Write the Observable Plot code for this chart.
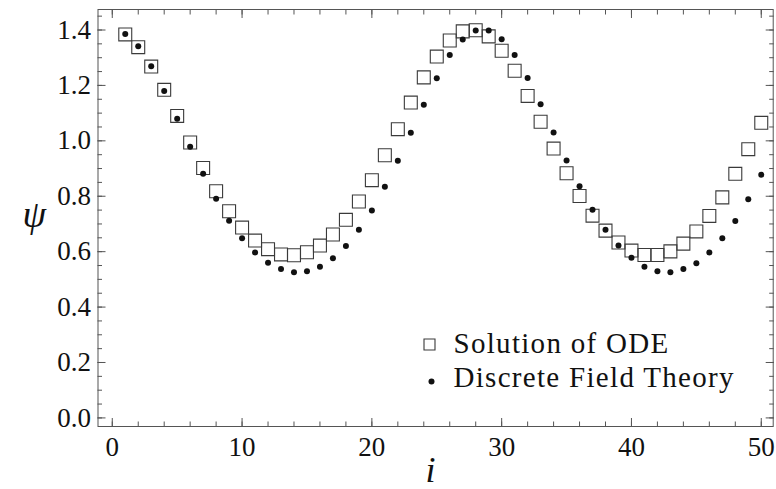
<!DOCTYPE html>
<html>
<head>
<meta charset="utf-8">
<script src="https://cdn.jsdelivr.net/npm/d3@7"></script>
<script src="https://cdn.jsdelivr.net/npm/@observablehq/plot@0.6"></script>
<style>
  html, body { margin: 0; padding: 0; background: #fff; }
  #chart svg { display: block; }
</style>
</head>
<body>
<div id="chart"></div>
<script>
// index i = 1..50
const idx = d3.range(1, 51);

// Solution of ODE (open squares)
const odeValues = [
  1.384, 1.338, 1.268, 1.184, 1.090, 0.994, 0.902, 0.818, 0.746, 0.687,
  0.640, 0.609, 0.590, 0.587, 0.598, 0.622, 0.662, 0.715, 0.781, 0.858,
  0.948, 1.042, 1.138, 1.229, 1.304, 1.362, 1.395, 1.399, 1.377, 1.325,
  1.253, 1.162, 1.069, 0.972, 0.883, 0.801, 0.730, 0.676, 0.633, 0.604,
  0.588, 0.588, 0.601, 0.629, 0.673, 0.729, 0.796, 0.881, 0.970, 1.065
];

// Discrete Field Theory (filled dots)
const dftValues = [
  1.386, 1.341, 1.269, 1.180, 1.080, 0.979, 0.881, 0.791, 0.712, 0.648,
  0.597, 0.560, 0.537, 0.526, 0.529, 0.546, 0.576, 0.620, 0.679, 0.749,
  0.834, 0.928, 1.029, 1.130, 1.226, 1.310, 1.366, 1.398, 1.398, 1.367,
  1.310, 1.227, 1.132, 1.030, 0.929, 0.836, 0.751, 0.679, 0.622, 0.578,
  0.546, 0.529, 0.526, 0.537, 0.558, 0.597, 0.648, 0.711, 0.789, 0.878
];

const seriesNames = ["Solution of ODE", "Discrete Field Theory"];
const xMajor = [0, 10, 20, 30, 40, 50];
const xMinor = d3.range(0, 51, 2);
const yMajor = [0, 0.2, 0.4, 0.6, 0.8, 1.0, 1.2, 1.4];
const yMinor = d3.range(0, 30).map(k => +(k * 0.05).toFixed(2));
const xLabel = "i";
const yLabel = "ψ";

const ode = idx.map((i, k) => ({i, v: odeValues[k]}));
const dft = idx.map((i, k) => ({i, v: dftValues[k]}));

const frameColor = "#555";
const font = "Liberation Serif";

const svg = Plot.plot({
  width: 776,
  height: 489,
  marginLeft: 97.5,
  marginRight: 3.3,
  marginTop: 9,
  marginBottom: 63,
  style: "font-family: 'Liberation Serif', 'DejaVu Serif', serif; font-size: 27px; color: #111; background: #fff;",
  x: {domain: [-1.1, 50.92]},
  y: {domain: [-0.031, 1.474]},
  marks: [
    Plot.frame({stroke: frameColor, strokeWidth: 1}),
    // inward ticks, all four sides
    Plot.axisX(xMinor, {anchor: "bottom", tickSize: -4.5, tickFormat: () => "", label: null, stroke: frameColor}),
    Plot.axisX(xMinor, {anchor: "top", tickSize: -4.5, tickFormat: () => "", label: null, stroke: frameColor}),
    Plot.axisX(xMajor, {anchor: "bottom", tickSize: -8, tickFormat: () => "", label: null, stroke: frameColor}),
    Plot.axisX(xMajor, {anchor: "top", tickSize: -8, tickFormat: () => "", label: null, stroke: frameColor}),
    Plot.axisY(yMinor, {anchor: "left", tickSize: -4.5, tickFormat: () => "", label: null, stroke: frameColor}),
    Plot.axisY(yMinor, {anchor: "right", tickSize: -4.5, tickFormat: () => "", label: null, stroke: frameColor}),
    Plot.axisY(yMajor, {anchor: "left", tickSize: -8, tickFormat: () => "", label: null, stroke: frameColor}),
    Plot.axisY(yMajor, {anchor: "right", tickSize: -8, tickFormat: () => "", label: null, stroke: frameColor}),
    // tick labels
    Plot.axisX(xMajor, {anchor: "bottom", tickSize: 0, tickPadding: 10, tickFormat: d3.format("d"), label: null, fontSize: 27, fill: "#111", fontFamily: font}),
    Plot.axisY(yMajor, {anchor: "left", tickSize: 0, tickPadding: 7, tickFormat: d3.format(".1f"), label: null, fontSize: 27, fill: "#111", fontFamily: font}),
    // data
    Plot.dot(ode, {x: "i", y: "v", symbol: "square", r: 7.3, stroke: "#3a3a3a", strokeWidth: 1.1, fill: "none"}),
    Plot.dot(dft, {x: "i", y: "v", r: 3, fill: "#111", stroke: "none"}),
    // axis labels
    Plot.text([yLabel], {text: d => d, frameAnchor: "left", dx: -75.5, dy: -3, fontSize: 38, fontStyle: "italic", fill: "#111", fontFamily: font}),
    Plot.text([xLabel], {text: d => d, frameAnchor: "bottom", dx: -5, dy: 55, lineAnchor: "bottom", fontSize: 36, fontStyle: "italic", fill: "#111", fontFamily: font}),
    // legend
    Plot.dot([seriesNames[0]], {frameAnchor: "bottom-left", dx: 331.5, dy: -82, symbol: "square", r: 6.2, stroke: "#3a3a3a", strokeWidth: 1.1, fill: "none"}),
    Plot.dot([seriesNames[1]], {frameAnchor: "bottom-left", dx: 333.5, dy: -45, r: 3, fill: "#111", stroke: "none"}),
    Plot.text([seriesNames[0]], {text: d => d, frameAnchor: "bottom-left", dx: 355.5, dy: -73.5, textAnchor: "start", lineAnchor: "bottom", fontSize: 29, fill: "#111", fontFamily: font}),
    Plot.text([seriesNames[1]], {text: d => d, frameAnchor: "bottom-left", dx: 355.5, dy: -39.5, textAnchor: "start", lineAnchor: "bottom", fontSize: 29, fill: "#111", fontFamily: font})
  ]
});

d3.select(svg).selectAll("text")
  .filter(function() { return seriesNames.includes(this.textContent); })
  .attr("letter-spacing", "1.3px");

document.getElementById("chart").appendChild(svg);
</script>
</body>
</html>
